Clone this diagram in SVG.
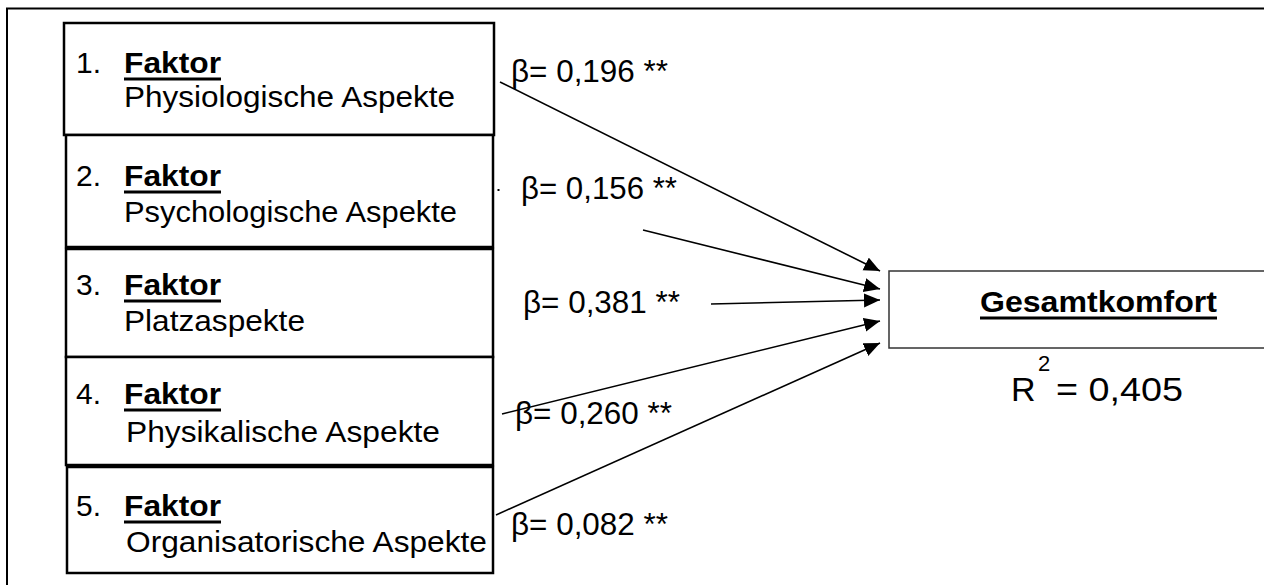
<svg xmlns="http://www.w3.org/2000/svg" width="1264" height="585" viewBox="0 0 1264 585">
<style>
text{font-family:"Liberation Sans",Arial,sans-serif;fill:#000}
.n{font-size:30px}
.b{font-size:30px;font-weight:bold}
.beta{font-size:31px}
.box{fill:#fff;stroke:#000;stroke-width:2.5}
.ul{stroke:#000;stroke-width:3}
.conn line{stroke:#000;stroke-width:1.6;marker-end:url(#ah)}
</style>
<defs>
<marker id="ah" markerUnits="userSpaceOnUse" markerWidth="18" markerHeight="16" refX="16" refY="7" orient="auto">
<path d="M0,0 L16,7 L0,14 z" fill="#000"/>
</marker>
</defs>
<rect width="1264" height="585" fill="#fff"/>
<path d="M7,600 L7,8.5 L1270,8.5" fill="none" stroke="#000" stroke-width="2"/>

<g id="f1">
<rect class="box" x="64" y="23" width="430" height="112"/>
<text class="n" x="76" y="73" textLength="25" lengthAdjust="spacingAndGlyphs">1.</text>
<text class="b" x="124" y="73" textLength="97" lengthAdjust="spacingAndGlyphs">Faktor</text>
<line class="ul" x1="124" y1="79" x2="221" y2="79"/>
<text class="n" x="124" y="107" textLength="331" lengthAdjust="spacingAndGlyphs">Physiologische Aspekte</text>
</g>
<g id="f2">
<rect class="box" x="66" y="135" width="427" height="112"/>
<text class="n" x="76" y="186" textLength="25" lengthAdjust="spacingAndGlyphs">2.</text>
<text class="b" x="124" y="186" textLength="97" lengthAdjust="spacingAndGlyphs">Faktor</text>
<line class="ul" x1="124" y1="192" x2="221" y2="192"/>
<text class="n" x="124" y="222" textLength="333" lengthAdjust="spacingAndGlyphs">Psychologische Aspekte</text>
</g>
<g id="f3">
<rect class="box" x="66" y="249" width="427" height="108"/>
<text class="n" x="76" y="295" textLength="25" lengthAdjust="spacingAndGlyphs">3.</text>
<text class="b" x="124" y="295" textLength="97" lengthAdjust="spacingAndGlyphs">Faktor</text>
<line class="ul" x1="124" y1="301" x2="221" y2="301"/>
<text class="n" x="124" y="331" textLength="181" lengthAdjust="spacingAndGlyphs">Platzaspekte</text>
</g>
<g id="f4">
<rect class="box" x="66" y="357" width="427" height="108"/>
<text class="n" x="76" y="404" textLength="25" lengthAdjust="spacingAndGlyphs">4.</text>
<text class="b" x="124" y="404" textLength="97" lengthAdjust="spacingAndGlyphs">Faktor</text>
<line class="ul" x1="124" y1="410" x2="221" y2="410"/>
<text class="n" x="126" y="442" textLength="314" lengthAdjust="spacingAndGlyphs">Physikalische Aspekte</text>
</g>
<g id="f5">
<rect class="box" x="67" y="467" width="426" height="106"/>
<text class="n" x="76" y="516" textLength="25" lengthAdjust="spacingAndGlyphs">5.</text>
<text class="b" x="124" y="516" textLength="97" lengthAdjust="spacingAndGlyphs">Faktor</text>
<line class="ul" x1="124" y1="522" x2="221" y2="522"/>
<text class="n" x="126" y="552" textLength="361" lengthAdjust="spacingAndGlyphs">Organisatorische Aspekte</text>
</g>

<g id="gesamt">
<rect x="889" y="271" width="400" height="77" fill="#fff" stroke="#333" stroke-width="1.5"/>
<text class="b" x="980" y="312" textLength="237" lengthAdjust="spacingAndGlyphs">Gesamtkomfort</text>
<line class="ul" x1="980" y1="318" x2="1217" y2="318"/>
<text x="1011" y="401" style="font-size:34px">R</text>
<text x="1038" y="371" style="font-size:22px">2</text>
<text x="1056" y="401" style="font-size:34px" textLength="127" lengthAdjust="spacingAndGlyphs">= 0,405</text>
</g>

<g id="connectors" class="conn">
<line x1="500" y1="82" x2="880" y2="271"/>
<line x1="643" y1="230" x2="880" y2="289"/>
<line x1="711" y1="304" x2="880" y2="300"/>
<line x1="502" y1="414" x2="880" y2="321"/>
<line x1="496" y1="515" x2="880" y2="343"/>
</g>
<rect x="497.5" y="189" width="2" height="2" fill="#000"/>

<g id="labels">
<text class="beta" x="511" y="82" textLength="157" lengthAdjust="spacingAndGlyphs">β= 0,196 **</text>
<text class="beta" x="521" y="199" textLength="156" lengthAdjust="spacingAndGlyphs">β= 0,156 **</text>
<text class="beta" x="523" y="313" textLength="157" lengthAdjust="spacingAndGlyphs">β= 0,381 **</text>
<text class="beta" x="515" y="424" textLength="157" lengthAdjust="spacingAndGlyphs">β= 0,260 **</text>
<text class="beta" x="511" y="535" textLength="157" lengthAdjust="spacingAndGlyphs">β= 0,082 **</text>
</g>
</svg>
